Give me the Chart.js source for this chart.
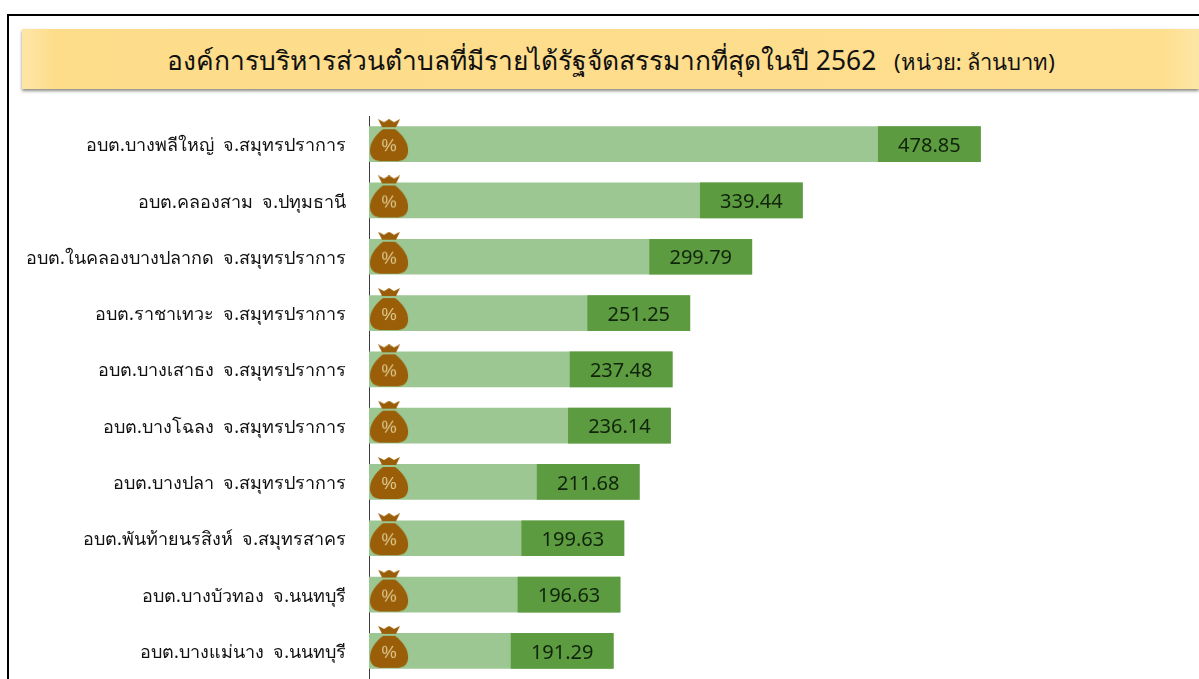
<!DOCTYPE html>
<html lang="th">
<head>
<meta charset="utf-8">
<title>อบต. รายได้รัฐจัดสรร 2562</title>
<script src="https://cdn.jsdelivr.net/npm/chart.js@4/dist/chart.umd.min.js"></script>
<style>
   html, body { margin: 0; padding: 0; background: #fff; overflow: hidden; }
   body { width: 1199px; height: 679px; position: relative; font-family: "Noto Sans", "Open Sans", sans-serif; }
   #frame { position: absolute; left: 7px; top: 14px; width: 1300px; height: 800px; border: 2px solid #000; }
   #band {
      position: absolute; left: 22px; top: 29px; width: 1177px; height: 60px;
      background: linear-gradient(90deg, #fde6a6 0, #fddc8a 3%, #fedf8f 97%, #fde6a6 100%);
      box-shadow: 0 2px 3px #8a8a80;
   }
   #title { position: absolute; left: 145px; top: 1px; line-height: 60px; white-space: nowrap; color: #111; font-size: 26.4px; }
   #title small { font-size: 22px; margin-left: 11px; }
   #wrap { position: absolute; left: 0; top: 0; width: 1199px; height: 679px; }
</style>
</head>
<body>
<div id="frame"></div>
<div id="band"><div id="title">องค์การบริหารส่วนตำบลที่มีรายได้รัฐจัดสรรมากที่สุดในปี 2562 <small>(หน่วย: ล้านบาท)</small></div></div>
<div id="wrap"><canvas id="chart" width="1199" height="679"></canvas></div>
<script>
const names = [
   "อบต.บางพลีใหญ่  จ.สมุทรปราการ",
   "อบต.คลองสาม  จ.ปทุมธานี",
   "อบต.ในคลองบางปลากด  จ.สมุทรปราการ",
   "อบต.ราชาเทวะ  จ.สมุทรปราการ",
   "อบต.บางเสาธง  จ.สมุทรปราการ",
   "อบต.บางโฉลง  จ.สมุทรปราการ",
   "อบต.บางปลา  จ.สมุทรปราการ",
   "อบต.พันท้ายนรสิงห์  จ.สมุทรสาคร",
   "อบต.บางบัวทอง  จ.นนทบุรี",
   "อบต.บางแม่นาง  จ.นนทบุรี",
];
const revenue = [478.85, 339.44, 299.79, 251.25, 237.48, 236.14, 211.68, 199.63, 196.63, 191.29];
const tipSpan = 80;    // dark end of every bar, same length in the original
const iconAt = 15.7;   // where the bag sits on the value axis

function makeBag() {
   const c = document.createElement("canvas");
   c.width = 42;
   c.height = 50;
   const g = c.getContext("2d");
   g.fillStyle = "#9a5e08";
   // knot
   g.beginPath();
   g.moveTo(10, 0); g.lineTo(16, 3); g.lineTo(21, 0); g.lineTo(26, 3); g.lineTo(32, 0);
   g.lineTo(28, 8); g.lineTo(14, 8);
   g.closePath();
   g.fill();
   // bag
   g.beginPath();
   g.moveTo(15, 10);
   g.lineTo(27, 10);
   g.bezierCurveTo(34, 15, 41, 24, 40, 33);
   g.bezierCurveTo(39, 40, 34, 42, 28, 42);
   g.lineTo(14, 42);
   g.bezierCurveTo(8, 42, 3, 40, 2, 33);
   g.bezierCurveTo(1, 24, 8, 15, 15, 10);
   g.closePath();
   g.fill();
   g.fillStyle = "#e2cf96";
   g.font = "17px 'Liberation Sans'";
   g.textAlign = "center";
   g.textBaseline = "middle";
   g.fillText("%", 21, 27);
   return c;
}

const valueLabels = {
   id: "valueLabels",
   afterDatasetsDraw(chart) {
      const bars = chart.getDatasetMeta(1).data;
      const g = chart.ctx;
      g.save();
      g.font = "20px 'Noto Sans', 'Open Sans', sans-serif";
      g.fillStyle = "#10240c";
      g.textAlign = "center";
      g.textBaseline = "middle";
      bars.forEach((bar, i) => {
         const { x, base, y } = bar.getProps(["x", "base", "y"], true);
         g.fillText(revenue[i].toFixed(2), (x + base) / 2, y + 2);
      });
      g.restore();
   },
};

new Chart(document.getElementById("chart"), {
   type: "bar",
   data: {
      labels: names,
      datasets: [
         {
            data: revenue,
            backgroundColor: "#9cc692",
            grouped: false,
            barThickness: 35,
            order: 3,
         },
         {
            data: revenue.map((v) => [v - tipSpan, v]),
            backgroundColor: "#5c9b3f",
            grouped: false,
            barThickness: 35,
            order: 2,
         },
         {
            type: "line",
            data: names.map((n) => ({ x: iconAt, y: n })),
            showLine: false,
            pointStyle: makeBag(),
            order: 1,
         },
      ],
   },
   plugins: [valueLabels],
   options: {
      indexAxis: "y",
      responsive: false,
      animation: false,
      layout: { autoPadding: false, padding: { top: 116, bottom: 0, left: 0, right: 0 } },
      plugins: { legend: { display: false }, tooltip: { enabled: false } },
      scales: {
         x: { display: false, min: 0, max: 650 },
         y: {
            afterFit(scale) {
               scale.width = 369;
               // tick padding would otherwise shorten the band area
               scale.paddingTop = 0;
               scale.paddingBottom = 0;
            },
            grid: { display: false, drawTicks: false },
            border: { display: true, color: "#3c3c3c", width: 1 },
            ticks: {
               color: "#111",
               padding: 23,
               labelOffset: 2,
               font: { size: 18, family: "'Noto Sans', 'Open Sans', sans-serif" },
            },
         },
      },
   },
});
</script>
</body>
</html>
